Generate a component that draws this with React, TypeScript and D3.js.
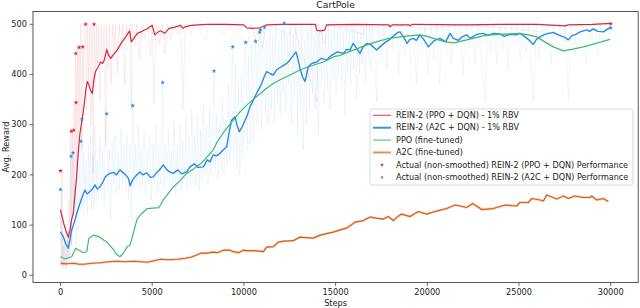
import * as d3 from 'd3'

type Pt = [number, number]

// smoothed curves (step, reward)
const reinPpo: Pt[] = [
  [0, 131], [100, 115], [200, 100], [300, 88], [425, 76], [520, 90], [600, 110], [700, 124], [800, 165],
  [880, 196], [960, 240], [1060, 283], [1180, 310], [1280, 336], [1380, 370], [1460, 386], [1540, 380],
  [1620, 370], [1735, 362], [1820, 390], [1910, 406], [2050, 415], [2190, 425], [2300, 422], [2400, 430],
  [2460, 440], [2520, 450], [2600, 440], [2735, 432], [2900, 440], [3100, 449], [3300, 462], [3555, 475],
  [3770, 487], [3860, 465], [4000, 472], [4190, 482], [4450, 486], [4730, 491], [5000, 498], [5140, 479],
  [5300, 484], [5460, 487], [5680, 482], [5920, 492], [6200, 494], [6550, 498], [6680, 492], [6800, 495],
  [7100, 498], [7500, 499], [8000, 500], [9000, 500], [10000, 499], [10150, 493], [10500, 492], [10880, 493],
  [11240, 499], [12000, 500], [13000, 500], [13900, 500], [13970, 488], [14200, 487], [14420, 489],
  [14500, 499], [16000, 500], [17900, 499], [17970, 495], [18100, 499], [19000, 499], [19060, 497],
  [19200, 500], [22000, 499], [24000, 500], [26000, 500], [27500, 497], [27700, 499], [29000, 500], [30000, 502],
]

const reinA2c: Pt[] = [
  [0, 86], [150, 77], [300, 62], [425, 54], [520, 72], [610, 90], [700, 100], [790, 110], [900, 125],
  [1060, 143], [1200, 158], [1335, 170], [1450, 162], [1610, 167], [1750, 172], [1880, 180], [2000, 172],
  [2150, 176], [2300, 185], [2440, 196], [2560, 200], [2700, 203], [2900, 205], [3050, 200], [3240, 210],
  [3400, 205], [3550, 200], [3700, 193], [3800, 178], [3900, 188], [4100, 198], [4330, 206], [4500, 200],
  [4700, 204], [4900, 195], [5060, 196], [5250, 205], [5450, 212], [5600, 220], [5800, 210], [6000, 205],
  [6150, 203], [6400, 210], [6600, 202], [6880, 206], [7060, 216], [7300, 222], [7500, 215], [7790, 216],
  [8000, 230], [8150, 226], [8330, 240], [8500, 238], [8700, 243], [8880, 250], [9060, 256], [9200, 285],
  [9330, 309], [9510, 316], [9620, 300], [9750, 286], [9900, 295], [10060, 309], [10200, 320], [10330, 336],
  [10470, 345], [10600, 356], [10800, 370], [10970, 382], [11100, 395], [11240, 406], [11420, 402],
  [11600, 399], [11800, 410], [12060, 416], [12330, 422], [12510, 429], [12700, 438], [12840, 445],
  [12950, 430], [13060, 412], [13200, 395], [13330, 386], [13420, 400], [13510, 416], [13700, 422],
  [13970, 425], [14200, 432], [14510, 429], [14700, 436], [14870, 440], [15100, 445], [15420, 442],
  [15600, 450], [15790, 449], [15960, 462], [16150, 452], [16330, 442], [16500, 455], [16700, 462],
  [16900, 460], [17240, 449], [17420, 455], [17700, 464], [17970, 470], [18200, 478], [18400, 484],
  [18510, 485], [18700, 475], [18900, 462], [19050, 470], [19240, 472], [19400, 468], [19600, 479],
  [19800, 470], [20060, 455], [20150, 459], [20400, 468], [20690, 472], [21000, 465], [21240, 482],
  [21420, 472], [21700, 468], [21900, 475], [22150, 479], [22330, 472], [22700, 480], [23050, 482],
  [23300, 478], [23600, 482], [23960, 481], [24200, 476], [24500, 480], [24870, 479], [25050, 482],
  [25300, 476], [25500, 470], [25780, 460], [25950, 470], [26150, 475], [26400, 480], [26870, 484],
  [27200, 478], [27500, 474], [27690, 469], [27900, 478], [28100, 480], [28330, 485], [28690, 489],
  [28850, 486], [29050, 491], [29300, 486], [29600, 485], [29800, 490], [30000, 494],
]

const ppo: Pt[] = [
  [0, 37], [250, 33], [450, 35], [610, 37], [830, 54], [1000, 50], [1250, 45], [1430, 47], [1550, 74],
  [1790, 80], [2000, 78], [2150, 76], [2370, 70], [2520, 67], [2740, 57], [2880, 52], [3050, 42], [3240, 37],
  [3400, 43], [3640, 57], [3790, 60], [3920, 77], [4050, 95], [4190, 113], [4400, 122], [4730, 133],
  [5050, 134], [5370, 135], [5600, 150], [5820, 160], [6150, 176], [6500, 188], [6880, 203], [7250, 212],
  [7640, 222], [8000, 236], [8330, 250], [8550, 266], [8900, 285], [9420, 309], [9800, 326], [10150, 339],
  [10700, 356], [11150, 370], [11600, 382], [12050, 391], [12510, 399], [13060, 409], [13420, 414],
  [13900, 420], [14330, 425], [14870, 435], [15240, 438], [15700, 445], [16150, 451], [16700, 459],
  [17300, 466], [17900, 472], [18510, 475], [19000, 477], [19600, 479], [20000, 476], [20330, 472],
  [20900, 466], [21420, 463], [21800, 466], [22150, 469], [22600, 473], [23050, 477], [23500, 479],
  [23960, 480], [24500, 481], [25050, 482], [25500, 479], [25960, 475], [26400, 465], [26870, 455],
  [27420, 447], [28000, 451], [28510, 455], [29200, 462], [29960, 470],
]

const a2c: Pt[] = [
  [0, 24], [300, 23], [740, 24], [1000, 22], [1280, 22], [1700, 24], [2190, 25], [2600, 27], [3100, 28],
  [3500, 27], [4010, 28], [4400, 27], [4730, 26], [5100, 29], [5460, 32], [5900, 31], [6370, 32], [6800, 34],
  [7100, 36], [7400, 40], [7640, 44], [7970, 44], [8300, 46], [8550, 45], [8880, 50], [9240, 50], [9420, 47],
  [9700, 45], [9970, 50], [10150, 49], [10600, 49], [11060, 47], [11240, 56], [11600, 57], [11880, 66],
  [12200, 68], [12690, 69], [13060, 76], [13400, 75], [13790, 74], [14150, 80], [14500, 83], [14870, 86],
  [15200, 90], [15600, 94], [15850, 100], [16060, 106], [16510, 109], [16880, 116], [17200, 114],
  [17600, 112], [17870, 117], [18150, 109], [18350, 116], [18600, 122], [19060, 117], [19510, 127],
  [19970, 122], [20510, 128], [21060, 133], [21510, 140], [21800, 138], [22150, 135], [22480, 143],
  [22970, 131], [23300, 132], [23600, 133], [24240, 140], [24870, 138], [25050, 145], [25510, 145],
  [25690, 153], [26150, 150], [26330, 148], [26510, 160], [27060, 152], [27420, 158], [27690, 153],
  [28050, 158], [28500, 155], [28870, 155], [28960, 158], [29240, 150], [29600, 153], [29870, 147],
]

// raw (non-smoothed) episodes, drawn faint
const reinPpoRaw: Pt[] = [
  [0, 130], [40, 20], [80, 210], [120, 15], [170, 60], [220, 20], [270, 100], [320, 15], [380, 80], [420, 30],
  [470, 150], [520, 40], [560, 290], [600, 60], [650, 290], [700, 120], [740, 340], [790, 150], [830, 440],
  [870, 200], [920, 454], [960, 230], [1010, 455], [1060, 300], [1110, 500], [1160, 250], [1210, 455],
  [1260, 380], [1310, 500], [1370, 500], [1420, 330], [1480, 500], [1540, 380], [1600, 500], [1660, 300],
  [1720, 500], [1780, 200], [1830, 500], [1900, 380], [1960, 500], [2020, 420], [2080, 500], [2150, 350],
  [2220, 500], [2300, 430], [2380, 500], [2460, 260], [2520, 500], [2600, 410], [2680, 500], [2760, 380],
  [2840, 500], [2920, 440], [3000, 500], [3100, 400], [3200, 500], [3300, 450], [3400, 500], [3500, 380],
  [3600, 500], [3700, 470], [3800, 500], [3860, 330], [3920, 500], [4050, 460], [4150, 500], [4300, 430],
  [4450, 500], [4600, 470], [4750, 500], [4900, 440], [5000, 500], [5100, 340], [5200, 500], [5400, 460],
  [5550, 500], [5700, 440], [5850, 500], [6000, 470], [6150, 500], [6400, 480], [6550, 500], [6680, 330],
  [6800, 500], [7100, 480], [7300, 500], [7900, 470], [8100, 500], [8900, 480], [9100, 500], [10200, 460],
  [10400, 500], [10600, 470], [10800, 500], [11000, 450], [11200, 500], [12500, 480], [12700, 500],
  [13970, 345], [14100, 500], [14400, 460], [14600, 500], [16500, 480], [16700, 500], [17970, 470],
  [18200, 500], [20000, 490], [22000, 500], [25000, 490], [27400, 480], [27600, 500], [30000, 500],
]

const reinA2cRaw: Pt[] = [
  [0, 85], [40, 170], [80, 20], [130, 90], [180, 15], [230, 70], [280, 10], [330, 60], [380, 20], [430, 90],
  [480, 30], [530, 120], [573, 237], [620, 60], [680, 244], [730, 110], [790, 180], [840, 60], [900, 200],
  [960, 90], [1020, 220], [1070, 130], [1118, 267], [1172, 311], [1220, 120], [1280, 250], [1340, 140],
  [1400, 230], [1460, 120], [1520, 260], [1580, 150], [1640, 280], [1700, 130], [1760, 240], [1820, 140],
  [1880, 300], [1940, 150], [2000, 230], [2080, 150], [2150, 280], [2220, 160], [2300, 250], [2380, 140],
  [2440, 300], [2519, 322], [2580, 170], [2660, 250], [2740, 110], [2820, 270], [2900, 180], [2980, 280],
  [3060, 160], [3140, 250], [3220, 170], [3300, 290], [3380, 180], [3460, 260], [3540, 170], [3620, 280],
  [3700, 150], [3780, 260], [3860, 110], [3937, 338], [4000, 170], [4080, 260], [4160, 180], [4240, 300],
  [4320, 170], [4400, 250], [4480, 180], [4560, 290], [4640, 160], [4720, 250], [4800, 180], [4880, 280],
  [4960, 150], [5040, 260], [5120, 180], [5200, 300], [5280, 160], [5360, 250], [5440, 180], [5520, 300],
  [5572, 384], [5640, 170], [5720, 260], [5800, 190], [5880, 290], [5960, 170], [6040, 250], [6120, 180],
  [6200, 310], [6280, 160], [6360, 260], [6440, 180], [6520, 300], [6600, 170], [6680, 270], [6760, 190],
  [6840, 320], [6920, 170], [7000, 280], [7080, 180], [7160, 330], [7240, 190], [7320, 280], [7400, 180],
  [7480, 320], [7560, 170], [7640, 290], [7720, 190], [7800, 340], [7880, 200], [7960, 300], [8040, 180],
  [8120, 330], [8200, 200], [8280, 310], [8370, 407], [8440, 210], [8520, 320], [8600, 190], [8680, 300],
  [8760, 210], [8840, 350], [8920, 200], [9000, 310], [9080, 220], [9160, 380], [9240, 230], [9320, 400],
  [9390, 455], [9460, 240], [9540, 420], [9620, 210], [9700, 380], [9780, 200], [9860, 400], [9940, 240],
  [10020, 420], [10100, 464], [10180, 250], [10260, 440], [10340, 260], [10420, 460], [10500, 270],
  [10580, 430], [10640, 466], [10720, 300], [10800, 470], [10880, 483], [10960, 290], [11040, 480],
  [11100, 494], [11180, 320], [11260, 470], [11340, 300], [11420, 490], [11500, 330], [11580, 480],
  [11660, 300], [11740, 500], [11820, 340], [11900, 470], [11980, 320], [12060, 490], [12140, 360],
  [12200, 502], [12280, 330], [12360, 480], [12440, 380], [12520, 500], [12600, 300], [12680, 480],
  [12760, 360], [12840, 500], [12920, 280], [13000, 470], [13080, 330], [13160, 500], [13240, 250],
  [13330, 470], [13420, 300], [13500, 490], [13580, 330], [13660, 500], [13740, 360], [13820, 480],
  [13900, 330], [13980, 500], [14060, 280], [14140, 490], [14220, 380], [14300, 500], [14380, 340],
  [14460, 480], [14540, 370], [14620, 500], [14700, 330], [14780, 490], [14860, 390], [14940, 500],
  [15020, 360], [15100, 490], [15180, 400], [15260, 500], [15340, 370], [15420, 490], [15500, 320],
  [15580, 500], [15660, 400], [15740, 490], [15820, 380], [15900, 500], [15980, 410], [16060, 500],
  [16140, 350], [16220, 490], [16300, 400], [16380, 500], [16460, 420], [16540, 500], [16620, 380],
  [16700, 500], [16780, 430], [16860, 500], [16940, 410], [17020, 500], [17100, 440], [17240, 346],
  [17320, 500], [17480, 430], [17640, 500], [17800, 410], [17960, 500], [18120, 450], [18280, 500],
  [18440, 400], [18600, 500], [18760, 440], [18920, 500], [19080, 420], [19240, 500], [19400, 380],
  [19560, 500], [19720, 450], [19880, 500], [20040, 400], [20200, 500], [20360, 430], [20520, 500],
  [20680, 380], [20840, 500], [21000, 450], [21160, 500], [21320, 420], [21480, 500], [21640, 460],
  [21800, 500], [21960, 400], [22120, 500], [22280, 450], [22440, 500], [22600, 420], [22760, 500],
  [22920, 450], [23150, 346], [23300, 500], [23460, 440], [23620, 500], [23780, 420], [23940, 500],
  [24100, 450], [24260, 500], [24420, 410], [24580, 500], [24740, 460], [24900, 500], [25060, 430],
  [25220, 500], [25380, 440], [25540, 500], [25780, 346], [25940, 500], [26100, 430], [26260, 500],
  [26420, 450], [26580, 500], [26740, 420], [26900, 500], [27060, 460], [27220, 500], [27380, 440],
  [27540, 500], [27690, 346], [27850, 500], [28010, 440], [28170, 500], [28330, 460], [28490, 500],
  [28650, 420], [28810, 500], [28970, 470], [29130, 500], [29290, 440], [29450, 500], [29610, 460],
  [29770, 500], [29930, 480], [30000, 494],
]

// star markers: actual non-smoothed evaluation points
const reinPpoStars: Pt[] = [
  [0, 208], [590, 287], [720, 289], [845, 344], [830, 442], [1010, 454], [1210, 455], [1370, 500], [1830, 500],
  [30000, 501],
]
const reinA2cStars: Pt[] = [
  [0, 171], [573, 237], [680, 244], [1118, 267], [1172, 311], [2519, 322], [3937, 338], [5572, 384],
  [8370, 407], [9390, 455], [10100, 464], [10640, 466], [10860, 484], [10900, 489], [11130, 494],
  [12200, 502], [30000, 493],
]

const xTicks = [0, 5000, 10000, 15000, 20000, 25000, 30000]
const yTicks = [0, 100, 200, 300, 400, 500]

const RED = '#d62839'
const BLUE = '#2a8be6'
const GREEN = '#3dba6f'
const ORANGE = '#d8611c'

const legendItems = [
  { label: 'REIN-2 (PPO + DQN) - 1% RBV', color: '#e25866', kind: 'line', w: 1.2 },
  { label: 'REIN-2 (A2C + DQN) - 1% RBV', color: '#3d93e6', kind: 'line', w: 2 },
  { label: 'PPO (fine-tuned)', color: '#5cc98a', kind: 'line', w: 1.2 },
  { label: 'A2C (fine-tuned)', color: '#e0935c', kind: 'line', w: 2 },
  { label: 'Actual (non-smoothed) REIN-2 (PPO + DQN) Performance', color: RED, kind: 'star', w: 0 },
  { label: 'Actual (non-smoothed) REIN-2 (A2C + DQN) Performance', color: BLUE, kind: 'star', w: 0 },
]

export default function App() {
  const W = 640
  const H = 308
  const x = d3.scaleLinear().domain([0, 30000]).range([60.5, 610.7])
  const y = d3.scaleLinear().domain([0, 500]).range([275.3, 24.3])
  const left = x(-1500)
  const right = x(31500)
  const top = 11.5
  const bottom = 282.5

  const line = d3
    .line<Pt>()
    .x((d) => x(d[0]))
    .y((d) => y(d[1]))

  const star = d3.symbol().type(d3.symbolStar).size(7)() ?? ''
  const legendStar = d3.symbol().type(d3.symbolStar).size(5)() ?? ''
  const font = "'DejaVu Sans', sans-serif"

  return (
    <svg
      width={W}
      height={H}
      style={{ position: 'absolute', left: 0, top: 0, background: '#fff' }}
      fontFamily={font}
    >
      <defs>
        <clipPath id="plot">
          <rect x={left} y={top} width={right - left} height={bottom - top} />
        </clipPath>
      </defs>

      <g clipPath="url(#plot)">
        <path d={line(reinPpoRaw) ?? ''} fill="none" stroke={RED} strokeOpacity={0.09} strokeWidth={1} />
        <path d={line(reinA2cRaw) ?? ''} fill="none" stroke={BLUE} strokeOpacity={0.07} strokeWidth={1} />
        <path d={line(a2c) ?? ''} fill="none" stroke={ORANGE} strokeOpacity={0.3} strokeWidth={2.4} />
        <path d={line(reinPpo) ?? ''} fill="none" stroke={RED} strokeWidth={1.2} strokeLinejoin="round" />
        <path d={line(reinA2c) ?? ''} fill="none" stroke={BLUE} strokeWidth={1.4} strokeLinejoin="round" />
        <path d={line(ppo) ?? ''} fill="none" stroke={GREEN} strokeWidth={1.2} strokeLinejoin="round" />
        <path d={line(a2c) ?? ''} fill="none" stroke={ORANGE} strokeWidth={1.2} strokeLinejoin="round" />
        {reinPpoStars.map((d, i) => (
          <path key={'r' + i} d={star} transform={`translate(${x(d[0])},${y(d[1])})`} fill={RED} />
        ))}
        {reinA2cStars.map((d, i) => (
          <path key={'b' + i} d={star} transform={`translate(${x(d[0])},${y(d[1])})`} fill={BLUE} />
        ))}
      </g>

      {/* frame */}
      <rect x={left} y={top} width={right - left} height={bottom - top} fill="none" stroke="#444" strokeWidth={0.9} />

      {/* x axis */}
      {xTicks.map((t) => (
        <g key={'x' + t} transform={`translate(${x(t)},0)`}>
          <line y1={bottom} y2={bottom + 3.5} stroke="#444" strokeWidth={0.8} />
          <text y={295} textAnchor="middle" fontSize={8.2} fill="#222">
            {t}
          </text>
        </g>
      ))}
      <text x={(left + right) / 2} y={306} textAnchor="middle" fontSize={8.2} fill="#222">
        Steps
      </text>

      {/* y axis */}
      {yTicks.map((t) => (
        <g key={'y' + t} transform={`translate(0,${y(t)})`}>
          <line x1={left} x2={left - 3.5} stroke="#444" strokeWidth={0.8} />
          <text x={27} dy="0.32em" textAnchor="end" fontSize={8.2} fill="#222">
            {t}
          </text>
        </g>
      ))}
      <text
        transform={`translate(9,${(top + bottom) / 2}) rotate(-90)`}
        textAnchor="middle"
        fontSize={8.2}
        fill="#222"
      >
        Avg. Reward
      </text>

      <text x={(left + right) / 2} y={7.5} textAnchor="middle" fontSize={9.2} fill="#222">
        CartPole
      </text>

      {/* legend */}
      <g>
        <rect x={370} y={109} width={263} height={76} rx={2} fill="#fff" fillOpacity={0.85} stroke="#d0d0d0" strokeWidth={0.8} />
        {legendItems.map((it, i) => {
          const cy = 115.3 + i * 12.4
          return (
            <g key={it.label}>
              {it.kind === 'line' ? (
                <line x1={373} x2={391} y1={cy} y2={cy} stroke={it.color} strokeWidth={it.w} />
              ) : (
                <path d={legendStar} transform={`translate(382,${cy})`} fill={it.color} />
              )}
              <text x={396} y={cy} dy="0.34em" fontSize={8.1} fill="#222">
                {it.label}
              </text>
            </g>
          )
        })}
      </g>
    </svg>
  )
}
